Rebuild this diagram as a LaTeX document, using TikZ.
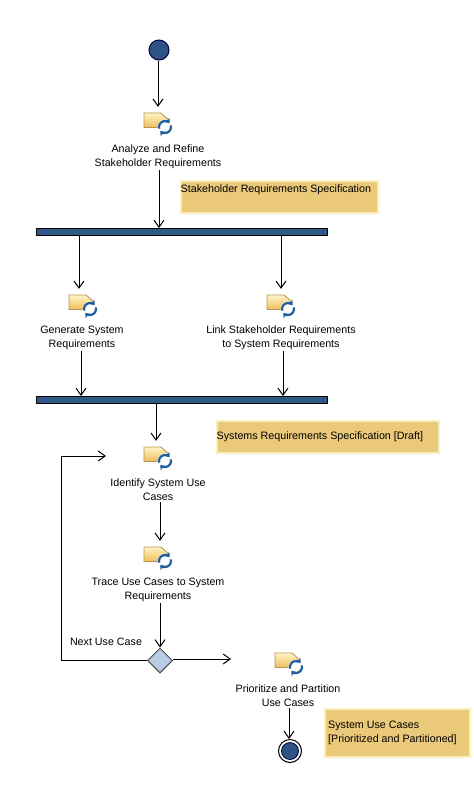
\documentclass[tikz,border=0pt]{standalone}
\usepackage{fontspec}
\setmainfont{Liberation Sans}
\usetikzlibrary{arrows.meta,shapes.geometric}
\definecolor{notefill}{HTML}{EBC97B}
\definecolor{noteedge}{HTML}{FBEDBE}
\definecolor{barfill}{HTML}{2F5A85}
\definecolor{dotfill}{HTML}{2B5383}
\definecolor{diafill}{HTML}{B9CCE4}
\definecolor{loopblue}{HTML}{1F5F9E}
\definecolor{docedge}{HTML}{B8944E}
\definecolor{doctop}{HTML}{FFF4C8}
\definecolor{docbot}{HTML}{EDBE58}
\tikzset{
  x=1pt,y=-1pt,
  flow/.style={draw=black,line width=1pt,-{Straight Barb[length=7pt,width=10pt,line width=1pt]}},
  lab/.style={font=\fontsize{10.7}{14}\selectfont,align=center,inner xsep=0pt,inner ysep=1pt},
  note/.style={draw=noteedge,line width=1.5pt,fill=notefill,inner sep=0pt,anchor=north west},
  notetext/.style={font=\fontsize{10.7}{14}\selectfont,align=left,inner sep=0pt,anchor=west},
  bar/.style={draw=black,line width=1pt,fill=barfill,inner sep=0pt,anchor=north west},
  iconbox/.style={inner sep=0pt,minimum width=10pt,minimum height=27pt},
  looparrow/.style={loopblue,line width=2.2pt,-{Stealth[length=4.5pt,width=7pt]}},
}
\newcommand\acticon[4]{% name, doc x, doc y, arrow x
  \node[iconbox] (#1) at (#4,#3+7.5) {};
  \begin{scope}[shift={(#2,#3)}]
    \draw[docedge,line width=.8pt,top color=doctop,bottom color=docbot]
      (0,0) -- (17,0) -- (25,7) -- (17,14.5) -- (0,14.5) -- cycle;
    \fill[white] (21,14) circle (7.5);
    \begin{scope}[shift={(21,14)},x=1pt,y=1pt]
      \draw[looparrow] (195:6) arc[start angle=195,end angle=40,radius=6];
      \draw[looparrow] (15:6) arc[start angle=15,end angle=-140,radius=6];
    \end{scope}
  \end{scope}
}
\begin{document}
\begin{tikzpicture}
\useasboundingbox (0,0) rectangle (474,785);
\fill[white] (0,0) rectangle (474,785);

% notes
\node[note,minimum width=197pt,minimum height=32pt] (n1) at (180,180) {};
\node[notetext] (n1t) at (180.5,189.5) {Stakeholder Requirements Specification};
\node[note,minimum width=222pt,minimum height=32pt] (n2) at (216,420) {};
\node[notetext] (n2t) at (216.5,437) {Systems Requirements Specification [Draft]};
\node[note,minimum width=145pt,minimum height=48pt] (n3) at (324,708) {};
\node[notetext] (n3t) at (328,733) {System Use Cases\\{[Prioritized and Partitioned]}};

% start / end
\node[circle,draw=black!75!blue,line width=1pt,fill=dotfill,minimum size=20pt,inner sep=0pt] (start) at (159,50) {};
\node[circle,draw=black,line width=1pt,fill=white,minimum size=23pt,inner sep=0pt] (endo) at (290,751) {};
\node[circle,draw=black!75!blue,line width=.8pt,fill=dotfill,minimum size=17pt,inner sep=0pt] (endi) at (290,751) {};

% bars
\node[bar,minimum width=291pt,minimum height=7pt] (bar1) at (36,228) {};
\node[bar,minimum width=291pt,minimum height=7pt] (bar2) at (36,396) {};

% diamond
\node[diamond,draw=black!70,line width=1pt,fill=diafill,minimum width=25pt,minimum height=25pt,inner sep=0pt] (dec) at (160,660.5) {};

% icons
\acticon{i1}{144}{113}{158}
\acticon{i2}{69}{295}{79}
\acticon{i3}{267}{295}{281}
\acticon{i4}{144}{447}{156}
\acticon{i5}{144}{547}{160}
\acticon{i6}{275}{653}{231}

% labels
\node[lab] (l1) at (158,156.5) {Analyze and Refine\\Stakeholder Requirements};
\node[lab] (l2) at (82,337.5) {Generate System\\Requirements};
\node[lab] (l3) at (281,337.5) {Link Stakeholder Requirements\\to System Requirements};
\node[lab] (l4) at (158,489.5) {Identify System Use\\Cases};
\node[lab] (l5) at (158,589.5) {Trace Use Cases to System\\Requirements};
\node[lab] (l6) at (288,695.5) {Prioritize and Partition\\Use Cases};
\node[lab] (next) at (106,642) {Next Use Case};

% connectors
\draw[flow] ([xshift=-1pt]start.south) -- ([xshift=-1pt]start.south |- i1.north);
\draw[flow] ([xshift=1pt]l1.south) -- ([xshift=1pt]l1.south |- bar1.north);
\draw[flow] (bar1.south -| i2.north) -- (i2.north);
\draw[flow] (bar1.south -| i3.north) -- (i3.north);
\draw[flow] ([xshift=-1pt]l2.south) -- ([xshift=-1pt]l2.south |- bar2.north);
\draw[flow] ([xshift=2pt]l3.south) -- ([xshift=2pt]l3.south |- bar2.north);
\draw[flow] (bar2.south -| i4.north) -- (i4.north);
\draw[flow] ([xshift=2pt]l4.south) -- ([xshift=2pt]l4.south |- i5.north);
\draw[flow] ([xshift=2pt]l5.south) -- ([xshift=2pt]l5.south |- dec.north);
\draw[flow] (dec.west) -- ++(-86,0) |- ([xshift=-50pt,yshift=-1.5pt]i4.center);
\draw[flow] ([yshift=1.5pt]dec.east) -- ([yshift=1.5pt]dec.east -| i6.center);
\draw[flow] ([xshift=1pt]l6.south) -- ([xshift=1pt]l6.south |- endo.north);
\end{tikzpicture}
\end{document}
